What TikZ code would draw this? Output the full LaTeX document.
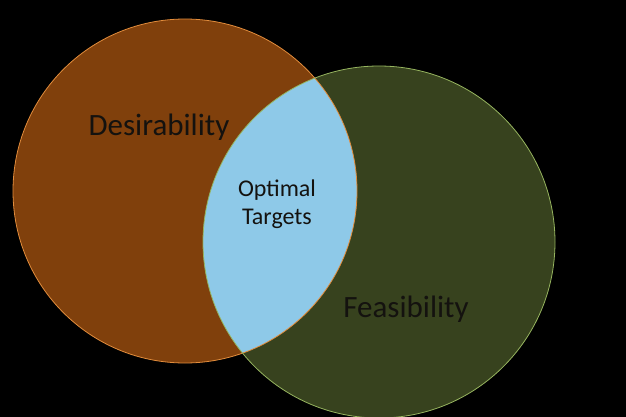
\documentclass[tikz,border=0pt]{standalone}
\usepackage{fontspec}
\setmainfont{Carlito}
\definecolor{desbrown}{RGB}{128,64,12}
\definecolor{desedge}{RGB}{225,140,60}
\definecolor{feagreen}{RGB}{55,66,30}
\definecolor{feaedge}{RGB}{150,180,95}
\definecolor{optblue}{RGB}{142,201,232}
\definecolor{txtdark}{RGB}{20,18,15}
\tikzset{
  lbl/.style={text=txtdark, inner sep=0pt, align=center},
}
\begin{document}
\begin{tikzpicture}[x=1pt,y=-1pt]
\fill[black] (0,0) rectangle (626,417);
\useasboundingbox (0,0) rectangle (626,417);
\coordinate (cl) at (185,191);
\coordinate (cr) at (379,242);
\fill[desbrown] (cl) circle[radius=172];
\fill[feagreen] (cr) circle[radius=176];
\begin{scope}
  \clip (cl) circle[radius=172];
  \fill[optblue] (cr) circle[radius=176];
\end{scope}
\draw[desedge, line width=0.8pt] (cl) circle[radius=172];
\draw[feaedge, line width=0.8pt] (cr) circle[radius=176];
\node[lbl, font=\fontsize{31}{34}\selectfont] (des) at (159,127) {Desirability};
\node[lbl, font=\fontsize{31}{34}\selectfont] (fea) at (406,309) {Feasibility};
\node[lbl, font=\fontsize{24}{28}\selectfont] (opt) at (277,204) {Optimal\\Targets};
\end{tikzpicture}
\end{document}
